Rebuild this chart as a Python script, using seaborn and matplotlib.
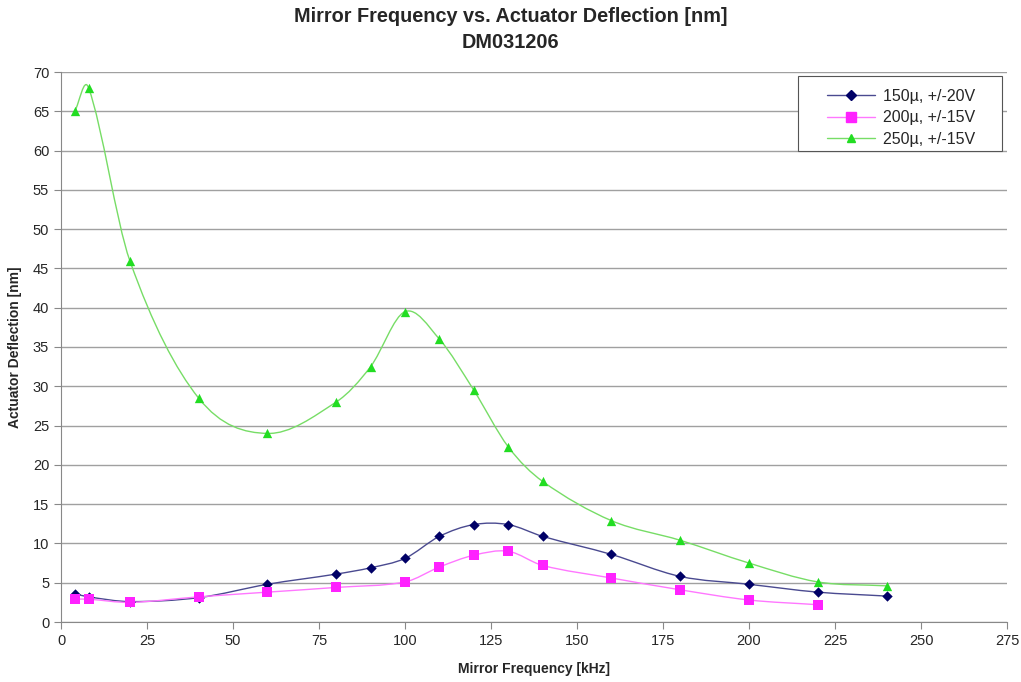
import numpy as np
import pandas as pd
import seaborn as sns
import matplotlib.pyplot as plt
from matplotlib.path import Path
from matplotlib.patches import PathPatch, Rectangle
from matplotlib.lines import Line2D

freq = [4, 8, 20, 40, 60, 80, 90, 100, 110, 120, 130, 140, 160, 180, 200, 220, 240]
defl_150 = [3.6, 3.2, 2.6, 3.1, 4.8, 6.1, 6.9, 8.1, 10.9, 12.4, 12.4, 10.9, 8.6, 5.8, 4.8, 3.8, 3.3]
freq_200 = [4, 8, 20, 40, 60, 80, 100, 110, 120, 130, 140, 160, 180, 200, 220]
defl_200 = [2.9, 2.9, 2.5, 3.2, 3.8, 4.4, 5.1, 7.0, 8.5, 9.0, 7.2, 5.6, 4.1, 2.8, 2.2]
defl_250 = [65, 68, 46, 28.5, 24, 28, 32.5, 39.5, 36, 29.5, 22.3, 17.9, 12.9, 10.4, 7.5, 5.1, 4.6]

labels = ["150µ, +/-20V", "200µ, +/-15V", "250µ, +/-15V"]
marker_cols = ["#000066", "#ff22ff", "#22dd22"]
line_cols = ["#4a4a90", "#ff77ff", "#77dd66"]
markers = ["D", "s", "^"]
sizes = [28, 45, 45]

df = pd.concat([
    pd.DataFrame({"freq": freq, "defl": defl_150, "series": labels[0]}),
    pd.DataFrame({"freq": freq_200, "defl": defl_200, "series": labels[1]}),
    pd.DataFrame({"freq": freq, "defl": defl_250, "series": labels[2]}),
])


def smooth_path(x, y):
    # bezier through the points, tangents scaled by segment length (less overshoot)
    x = np.asarray(x, float)
    y = np.asarray(y, float)
    n = len(x)
    ty = np.zeros(n)
    for i in range(n):
        a = max(i - 1, 0)
        b = min(i + 1, n - 1)
        ty[i] = (y[b] - y[a]) / (x[b] - x[a])
    verts = [(x[0], y[0])]
    codes = [Path.MOVETO]
    for i in range(n - 1):
        h = (x[i + 1] - x[i]) / 3
        verts += [(x[i] + h, y[i] + ty[i] * h),
                  (x[i + 1] - h, y[i + 1] - ty[i + 1] * h),
                  (x[i + 1], y[i + 1])]
        codes += [Path.CURVE4] * 3
    return Path(verts, codes)


sns.set_style("white")
plt.rcParams["font.family"] = ["Liberation Sans", "DejaVu Sans"]

fig = plt.figure(figsize=(10.21, 6.82), dpi=100)
ax = fig.add_axes([61 / 1021, 60 / 682, 946 / 1021, 550 / 682])

for lab, lc in zip(labels, line_cols):
    sub = df[df.series == lab]
    ax.add_patch(PathPatch(smooth_path(sub.freq, sub.defl), fill=False,
                           edgecolor=lc, lw=1.0, zorder=2))

for lab, mc, mk, sz in zip(labels, marker_cols, markers, sizes):
    sub = df[df.series == lab]
    sns.scatterplot(data=sub, x="freq", y="defl", marker=mk, color=mc, s=sz,
                    edgecolor=mc, linewidth=0, ax=ax, zorder=3, legend=False)

ax.set_xlim(0, 275)
ax.set_ylim(0, 70)
ax.set_xticks(range(0, 276, 25))
ax.set_yticks(range(0, 71, 5))
ax.yaxis.grid(True, color="#a0a0a0", lw=1)
ax.set_axisbelow(True)
for s in ["top", "right"]:
    ax.spines[s].set_visible(False)
for s in ["left", "bottom"]:
    ax.spines[s].set_color("#888888")
ax.tick_params(axis="both", labelsize=10.5, length=5, color="#888888", direction="out",
               bottom=True, left=True)
ax.set_xlabel("Mirror Frequency [kHz]", fontsize=10, fontweight="bold", labelpad=10)
ax.set_ylabel("Actuator Deflection [nm]", fontsize=10, fontweight="bold", labelpad=8)
fig.suptitle("Mirror Frequency vs. Actuator Deflection [nm]\nDM031206",
             fontsize=14.3, fontweight="bold", y=0.99, linespacing=1.5)

# legend box drawn like the excel one (wide, lots of left padding)
ax.add_patch(Rectangle((798 / 1021, 1 - 151 / 682), 204 / 1021, 75 / 682,
                       transform=fig.transFigure, facecolor="white", clip_on=False,
                       edgecolor="#555555", lw=0.8, zorder=5))
handles = [Line2D([0], [0], color=lc, lw=1, marker=mk, markerfacecolor=mc,
                  markeredgecolor=mc, markersize=ms)
           for lc, mc, mk, ms in zip(line_cols, marker_cols, markers, [5, 7, 6])]
leg = ax.legend(handles, labels, loc="upper right",
                bbox_to_anchor=(983 / 1021, 1 - 81 / 682), bbox_transform=fig.transFigure,
                fontsize=11.5, frameon=False, borderpad=0, handlelength=3.0,
                handletextpad=0.5, labelspacing=0.4)
leg.set_zorder(6)

fig.savefig("out.png", dpi=100)
